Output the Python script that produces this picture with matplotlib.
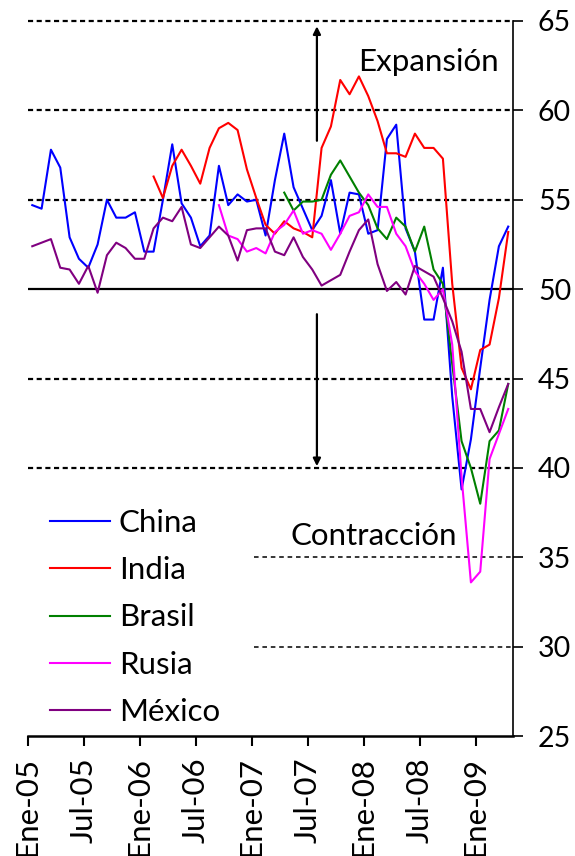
import numpy as np
import matplotlib
matplotlib.use('Agg')
import matplotlib.pyplot as plt

plt.rcParams['font.family'] = ['Lato', 'DejaVu Sans']

# PMI manufacturero, mensual desde Ene-05 (indice 0) hasta Abr-09 (indice 51)
n_months = 52
tick_labels = ['Ene-05', 'Jul-05', 'Ene-06', 'Jul-06', 'Ene-07',
               'Jul-07', 'Ene-08', 'Jul-08', 'Ene-09']

china = [54.7, 54.5, 57.8, 56.8, 52.9, 51.7, 51.2, 52.5, 55.0, 54.0, 54.0, 54.3,
         52.1, 52.1, 55.0, 58.1, 54.8, 54.0, 52.4, 53.0, 56.9, 54.7, 55.3, 54.9,
         55.0, 53.0, 56.1, 58.7, 55.7, 54.5, 53.3, 54.1, 56.1, 53.1, 55.4, 55.3,
         53.1, 53.3, 58.4, 59.2, 53.4, 52.1, 48.3, 48.3, 51.2, 44.0, 38.8, 41.6,
         45.6, 49.4, 52.4, 53.5]
china_start = 0

india = [56.3, 55.1, 56.9, 57.8, 56.9, 55.9, 57.9, 59.0, 59.3, 58.9, 56.7,
         55.1, 53.6, 53.1, 53.8, 53.4, 53.2, 52.9, 57.9, 59.1, 61.7, 60.9, 61.9,
         60.8, 59.4, 57.6, 57.6, 57.4, 58.7, 57.9, 57.9, 57.3, 50.3, 45.6, 44.4,
         46.6, 46.9, 49.5, 53.2]
india_start = 13

brasil = [55.4, 54.4, 54.9, 54.9, 55.0, 56.4, 57.2, 56.3, 55.4, 54.7, 53.4,
          52.8, 54.0, 53.5, 52.1, 53.5, 51.1, 50.3, 45.8, 41.5, 40.0, 38.0, 41.5,
          42.1, 44.7]
brasil_start = 27

rusia = [54.7, 53.0, 52.8, 52.1, 52.3, 52.0, 53.2, 53.6, 54.4, 53.1, 53.3,
         53.1, 52.2, 53.1, 54.1, 54.3, 55.3, 54.6, 54.6, 53.1, 52.4, 51.0, 50.3,
         49.4, 50.0, 46.9, 39.5, 33.6, 34.2, 40.5, 41.9, 43.3]
rusia_start = 20

mexico = [52.4, 52.6, 52.8, 51.2, 51.1, 50.3, 51.3, 49.8, 51.9, 52.6, 52.3, 51.7,
          51.7, 53.4, 54.0, 53.8, 54.6, 52.5, 52.3, 52.9, 53.5, 53.0, 51.6, 53.3,
          53.4, 53.4, 52.1, 51.9, 52.9, 51.8, 51.1, 50.2, 50.5, 50.8, 52.1, 53.3,
          53.9, 51.4, 49.9, 50.4, 49.7, 51.3, 51.0, 50.7, 49.5, 48.2, 46.5, 43.3,
          43.3, 42.0, 43.4, 44.7]
mexico_start = 0

fig = plt.figure(figsize=(5.75, 8.56), dpi=100)
ax = fig.add_axes([0.048, 0.140, 0.844, 0.8355])

# lineas de referencia
for v in [40, 45, 55, 60, 65]:
    ax.plot([-0.5, n_months - 0.5], [v, v], color='black', lw=1.6,
            dashes=(2.3, 1.6), zorder=1, clip_on=False)
for v in [30, 35]:
    ax.plot([23.75, n_months - 0.5], [v, v], color='black', lw=1.1,
            dashes=(3, 2.5), zorder=1)
ax.plot([-0.5, n_months - 0.5], [50, 50], color='black', lw=1.6, zorder=1)

series = [('China', china, china_start, '#0000FF'),
          ('India', india, india_start, '#FF0000'),
          ('Brasil', brasil, brasil_start, '#008000'),
          ('Rusia', rusia, rusia_start, '#FF00FF'),
          ('México', mexico, mexico_start, '#800080')]
for name, vals, start, col in series:
    x = np.arange(start, start + len(vals))
    ax.plot(x, vals, color=col, lw=1.5, label=name, zorder=3)

# flechas
ax.annotate('', xy=(30.5, 64.7), xytext=(30.5, 58.3),
            arrowprops=dict(arrowstyle='-|>', color='black', lw=1.6,
                            mutation_scale=11, shrinkA=0, shrinkB=0))
ax.annotate('', xy=(30.5, 40.1), xytext=(30.5, 48.6),
            arrowprops=dict(arrowstyle='-|>', color='black', lw=1.6,
                            mutation_scale=11, shrinkA=0, shrinkB=0))
ax.text(42.4, 62.7, 'Expansión', fontsize=22.5, ha='center', va='center')
ax.text(36.6, 36.2, 'Contracción', fontsize=22.5, ha='center', va='center')

ax.set_xlim(-0.5, n_months - 0.5)
ax.set_ylim(25, 65)
ax.set_xticks(np.arange(len(tick_labels)) * 6 - 0.5)
ax.set_xticklabels(tick_labels, rotation=90, fontsize=22.5)
ax.set_yticks(range(25, 70, 5))
ax.yaxis.tick_right()
ax.tick_params(axis='y', labelsize=20.5, length=7, width=1.2, direction='out', pad=11)
ax.tick_params(axis='x', length=7, width=1.5, direction='out', pad=8)

for s in ['top', 'left']:
    ax.spines[s].set_visible(False)
ax.spines['bottom'].set_linewidth(1.8)
ax.spines['right'].set_linewidth(1.2)

ax.legend(loc='upper left', bbox_to_anchor=(0.087, 0.405), bbox_transform=fig.transFigure,
          frameon=False, fontsize=22.5, handlelength=1.92, labelspacing=0.61,
          handletextpad=0.28, borderaxespad=0, borderpad=0)

fig.savefig('out.png', dpi=100)
